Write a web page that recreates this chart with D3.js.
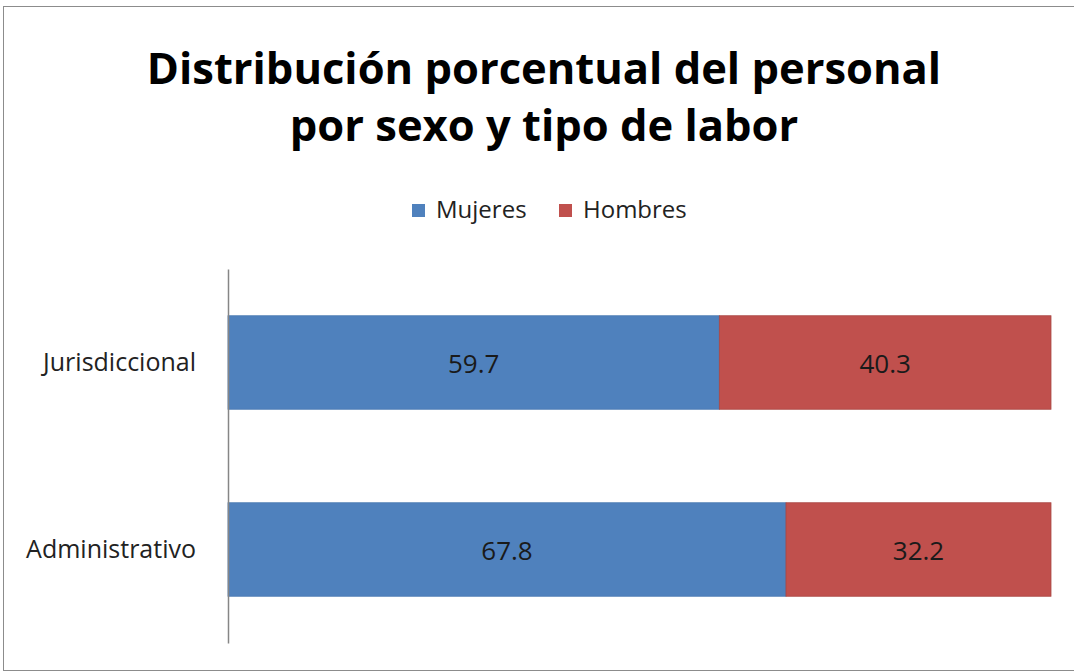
<!DOCTYPE html>
<html>
<head>
<meta charset="utf-8">
<script src="https://cdn.jsdelivr.net/npm/d3@7"></script>
<style>
  html, body { margin: 0; padding: 0; background: #fff; overflow: hidden; }
  svg { display: block; }
  text { font-family: "Open Sans", "Noto Sans", sans-serif; }
</style>
</head>
<body>
<svg id="chart" width="1074" height="672"></svg>
<script>
// Personnel distribution (%) by sex and type of work
const categories = ["Jurisdiccional", "Administrativo"];
const seriesNames = ["Mujeres", "Hombres"];
const mujeres = [59.7, 67.8];
const hombres = [40.3, 32.2];
const titleLines = ["Distribución porcentual del personal", "por sexo y tipo de labor"];

const colors = { Mujeres: "#4F81BD", Hombres: "#C0504D" };
const strokeColors = { Mujeres: "#4a7ab2", Hombres: "#a94643" };

const svg = d3.select("#chart");

// outer chart frame
svg.append("rect")
  .attr("x", 3.5).attr("y", 6.5)
  .attr("width", 1090).attr("height", 664)
  .attr("fill", "#fff")
  .attr("stroke", "#8c8c8c").attr("stroke-width", 1);

// title
const title = svg.append("text")
  .attr("text-anchor", "middle")
  .attr("font-weight", "bold")
  .attr("font-size", 43.5)
  .attr("fill", "#000");
titleLines.forEach((line, i) => {
  title.append("tspan").attr("x", 544).attr("y", 84 + i * 57).text(line);
});

// legend
const legendItems = [
  { name: seriesNames[0], x: 412 },
  { name: seriesNames[1], x: 559 }
];
const legend = svg.append("g");
legendItems.forEach(item => {
  legend.append("rect")
    .attr("x", item.x).attr("y", 204)
    .attr("width", 13).attr("height", 13)
    .attr("fill", colors[item.name]);
  legend.append("text")
    .attr("x", item.x + 24).attr("y", 218)
    .attr("font-size", 24)
    .attr("fill", "#222")
    .text(item.name);
});

// scales
const x = d3.scaleLinear().domain([0, 100]).range([228, 1051]);
const y = d3.scaleBand().domain(categories).range([269, 643])
  .paddingInner(0.5).paddingOuter(0.25);

const rows = categories.map((c, i) => ({ cat: c, Mujeres: mujeres[i], Hombres: hombres[i] }));
const stacked = d3.stack().keys(seriesNames)(rows);

const layers = svg.append("g").selectAll("g")
  .data(stacked).join("g")
  .attr("fill", d => colors[d.key])
  .attr("stroke", d => strokeColors[d.key]);

layers.selectAll("rect")
  .data(d => d.map(v => Object.assign({ key: d.key }, v)))
  .join("rect")
  .attr("x", d => x(d[0]))
  .attr("y", d => y(d.data.cat))
  .attr("width", d => x(d[1]) - x(d[0]))
  .attr("height", y.bandwidth())
  .attr("stroke-width", 0.8);

// value labels centered in each segment
layers.selectAll("text")
  .data(d => d.map(v => Object.assign({ key: d.key }, v)))
  .join("text")
  .attr("x", d => (x(d[0]) + x(d[1])) / 2)
  .attr("y", d => y(d.data.cat) + y.bandwidth() / 2 + 10)
  .attr("text-anchor", "middle")
  .attr("font-size", 26)
  .attr("fill", "#1a1a1a")
  .attr("stroke", "none")
  .text(d => d3.format(".1f")(d.data[d.key]));

// category axis
const yAxis = d3.axisLeft(y).tickSize(0).tickPadding(32);
const axisG = svg.append("g").attr("transform", "translate(228,0)").call(yAxis);
axisG.select(".domain").attr("stroke", "#868686").attr("stroke-width", 1.5);
axisG.selectAll(".tick text")
  .attr("font-family", "\"Open Sans\", \"Noto Sans\", sans-serif")
  .attr("font-size", 25)
  .attr("fill", "#222");
</script>
</body>
</html>
